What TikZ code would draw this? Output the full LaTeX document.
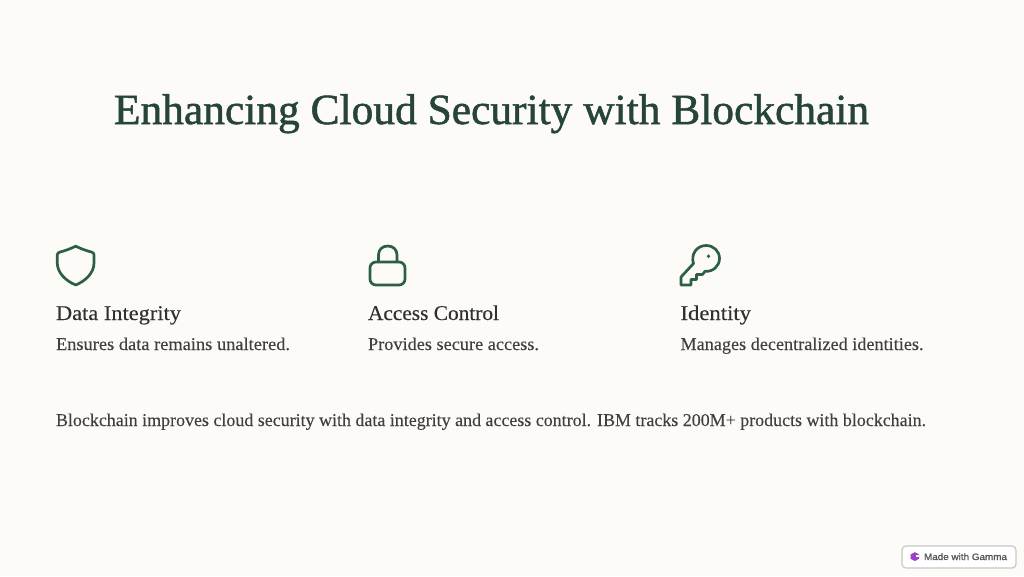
\documentclass[tikz,border=0pt]{standalone}
\usepackage{fontspec}
\usepackage{graphicx}
\setmainfont{Liberation Serif}
\newfontfamily\titlefont{Liberation Serif}[FakeBold=1.2]
\newfontfamily\headfont{Liberation Serif}[FakeBold=0.3]
\newfontfamily\bodyfont{Liberation Serif}[FakeBold=0.15]
\newfontfamily\badgefont{Liberation Sans}[FakeBold=1.2]
\definecolor{paper}{HTML}{FCFBF7}
\definecolor{titlegreen}{HTML}{27443A}
\definecolor{icongreen}{HTML}{2C5F45}
\definecolor{inkdark}{HTML}{30312F}
\definecolor{inkbody}{HTML}{40403D}
\definecolor{badgeline}{HTML}{C9C7C6}
\definecolor{badgeink}{HTML}{555555}
\definecolor{logopurple}{HTML}{9A3FC9}
\newcommand{\fitw}[2]{\resizebox{#1pt}{\height}{#2}}
\tikzset{
  txt/.style={anchor=base west,inner sep=0pt,outer sep=0pt},
  titletxt/.style={txt,text=titlegreen,font=\titlefont\fontsize{43}{43}\selectfont},
  headtxt/.style={txt,text=inkdark,font=\headfont\fontsize{21}{21}\selectfont},
  bodytxt/.style={txt,text=inkbody,font=\bodyfont\fontsize{18}{18}\selectfont},
  iconline/.style={draw=icongreen,line width=2.7pt,line join=round,line cap=round},
}
\begin{document}
\begin{tikzpicture}[x=1pt,y=-1pt]
\fill[paper] (0,0) rectangle (1024,576);
\useasboundingbox (0,0) rectangle (1024,576);
\node[titletxt] (title) at (114,124) {\fitw{755}{Enhancing Cloud Security with Blockchain}};
% shield
\draw[iconline] (75.7,246.2) .. controls (71,248.5) and (64.5,251) .. (60,252)
  .. controls (58,252.5) and (57.3,253.5) .. (57.3,255)
  -- (57.3,263) .. controls (57.3,273) and (66,281) .. (75.7,285)
  .. controls (85.4,281) and (94,273) .. (94,263) -- (94,255)
  .. controls (94,253.5) and (93.4,252.5) .. (91.4,252)
  .. controls (87,251) and (80.4,248.5) .. (75.7,246.2) -- cycle;
% lock
\draw[iconline,rounded corners=6pt] (370,262) rectangle (405,285);
\draw[iconline] (378.5,262) -- (378.5,255) .. controls (378.5,249.5) and (382.5,246) .. (387.75,246)
  .. controls (393,246) and (397,249.5) .. (397,255) -- (397,262);
% key
\draw[iconline] (693.5,263.5) -- (681,277) -- (681,285) -- (691,285) -- (691,279.5) -- (696.5,279.5) -- (696.5,274.5) -- (702.5,274.5) -- (705,271.3)
  .. controls (713,272) and (719.5,266) .. (719.5,258.5)
  .. controls (719.5,251) and (713.5,245.5) .. (706,245.5)
  .. controls (697,245.5) and (690.5,254) .. (693.5,263.5) -- cycle;
\fill[icongreen] (708.5,256.3) circle (1.9);
% headings
\node[headtxt] (h1) at (56,320) {\fitw{125}{Data Integrity}};
\node[headtxt] (h2) at (368,320) {\fitw{131}{Access Control}};
\node[headtxt] (h3) at (680.5,320) {\fitw{70.5}{Identity}};
\node[bodytxt] (b1) at (56,350) {\fitw{234}{Ensures data remains unaltered.}};
\node[bodytxt] (b2) at (368,350) {\fitw{171}{Provides secure access.}};
\node[bodytxt] (b3) at (680.5,350) {\fitw{243}{Manages decentralized identities.}};
\node[bodytxt] (foot) at (56,426) {\fitw{870}{Blockchain improves cloud security with data integrity and access control. IBM tracks 200M+ products with blockchain.}};
% badge
\draw[badgeline,fill=white,line width=1.2pt,rounded corners=4pt] (902,546) rectangle (1016,568);
\node[txt,text=badgeink,font=\badgefont\fontsize{9.3}{9.3}\selectfont] (badge) at (924,560) {\fitw{83}{Made with Gamma}};
\fill[logopurple] (914.8,552.2) -- (919,554.4) -- (919,558.8) -- (914.8,561) -- (910.6,558.8) -- (910.6,554.4) -- cycle;
\fill[white] (916,555.4) -- (919,555.4) -- (919,556.8) -- (916,556.8) -- cycle;
\end{tikzpicture}
\end{document}
